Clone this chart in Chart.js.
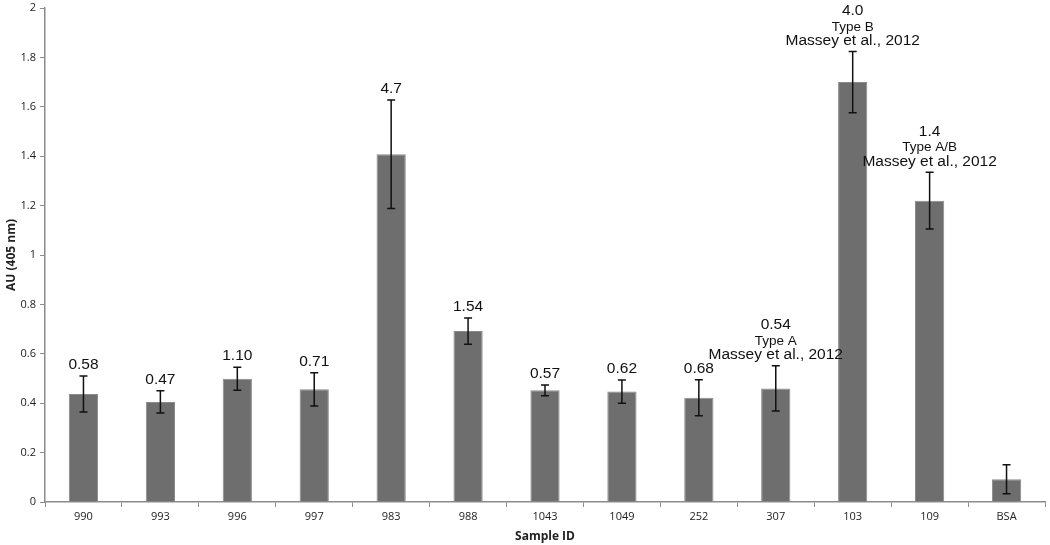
<!DOCTYPE html>
<html>
<head>
<meta charset="utf-8">
<script src="https://cdn.jsdelivr.net/npm/chart.js@4/dist/chart.umd.min.js"></script>
<style>
  body { margin: 0; background: #fff; }
  #wrap { width: 1050px; height: 545px; }
</style>
</head>
<body>
<div id="wrap"><canvas id="barChart"></canvas></div>
<script>
// sample ids along the x axis
const categories = ['990', '993', '996', '997', '983', '988', '1043', '1049', '252', '307', '103', '109', 'BSA'];
// mean absorbance (AU, 405 nm) and error (+/-)
const means = [0.437, 0.405, 0.499, 0.456, 1.408, 0.692, 0.452, 0.447, 0.422, 0.460, 1.700, 1.220, 0.092];
const errors = [0.073, 0.045, 0.047, 0.067, 0.220, 0.053, 0.022, 0.047, 0.073, 0.092, 0.124, 0.115, 0.059];
// text written above each bar
const ratioLabels = ['0.58', '0.47', '1.10', '0.71', '4.7', '1.54', '0.57', '0.62', '0.68', '0.54', '4.0', '1.4', ''];
const typeLabels = ['', '', '', '', '', '', '', '', '', 'Type A', 'Type B', 'Type A/B', ''];
const refLabels = ['', '', '', '', '', '', '', '', '', 'Massey et al., 2012', 'Massey et al., 2012', 'Massey et al., 2012', ''];
const yTicks = [0, 0.2, 0.4, 0.6, 0.8, 1, 1.2, 1.4, 1.6, 1.8, 2];

const AXIS_FONT = "'Open Sans', 'DejaVu Sans', sans-serif";
const NOTE_FONT = "'Liberation Sans', Arial, sans-serif";

// error bars + the notes over the bars
const errorBarPlugin = {
  id: 'errorBars',
  afterDatasetsDraw(chart) {
    const ctx = chart.ctx;
    const y = chart.scales.y;
    const meta = chart.getDatasetMeta(0);
    ctx.save();
    meta.data.forEach((bar, i) => {
      const x = bar.x;
      const top = y.getPixelForValue(means[i] + errors[i]);
      const bot = y.getPixelForValue(means[i] - errors[i]);
      ctx.strokeStyle = '#111';
      ctx.lineWidth = 1.5;
      ctx.beginPath();
      ctx.moveTo(x, top); ctx.lineTo(x, bot);
      ctx.moveTo(x - 4, top); ctx.lineTo(x + 4, top);
      ctx.moveTo(x - 4, bot); ctx.lineTo(x + 4, bot);
      ctx.stroke();

      ctx.fillStyle = '#111';
      ctx.textAlign = 'center';
      ctx.textBaseline = 'middle';
      let ty = top - 11;
      if (refLabels[i]) {
        ctx.font = '15.5px ' + NOTE_FONT;
        ctx.fillText(refLabels[i], x, ty);
        ty -= 13.5;
      }
      if (typeLabels[i]) {
        ctx.font = '13.5px ' + NOTE_FONT;
        ctx.fillText(typeLabels[i], x, ty);
        ty -= 16;
      }
      if (ratioLabels[i]) {
        ctx.font = '15.5px ' + NOTE_FONT;
        ctx.fillText(ratioLabels[i], x, ty);
      }
    });
    ctx.restore();
  }
};

const CHART = document.getElementById('barChart').getContext('2d');

let myBarChart = new Chart(CHART, {
  type: 'bar',
  data: {
    labels: categories,
    datasets: [{
      label: 'AU (405 nm)',
      data: means,
      backgroundColor: '#6e6e6e',
      borderColor: '#8a8a8a',
      borderWidth: 1,
      barPercentage: 0.38,
      categoryPercentage: 1
    }]
  },
  options: {
    responsive: true,
    maintainAspectRatio: false,
    animation: false,
    layout: { padding: { left: 0, right: 5, top: 0, bottom: 0 } },
    plugins: {
      legend: { display: false },
      tooltip: { enabled: false }
    },
    scales: {
      x: {
        grid: { display: true, drawOnChartArea: false, offset: true, tickLength: 5, color: '#8c8c8c' },
        border: { color: '#8c8c8c', width: 1.5 },
        ticks: { color: '#222', padding: 3, font: { family: AXIS_FONT, size: 11 } },
        title: {
          display: true, text: 'Sample ID', color: '#222',
          font: { family: AXIS_FONT, size: 12, weight: 'bold' },
          padding: { top: 0, bottom: 1 }
        },
        afterFit(scale) { scale.height = 43; }
      },
      y: {
        min: 0,
        max: 2,
        afterBuildTicks(scale) { scale.ticks = yTicks.map(v => ({ value: v })); },
        grid: { display: true, drawOnChartArea: false, tickLength: 5, color: '#8c8c8c' },
        border: { color: '#8c8c8c', width: 1.5 },
        ticks: {
          color: '#222', padding: 4,
          font: { family: AXIS_FONT, size: 11 },
          callback: v => String(+v.toFixed(1))
        },
        title: {
          display: true, text: 'AU (405 nm)', color: '#222',
          font: { family: AXIS_FONT, size: 12, weight: 'bold' },
          padding: { top: 4, bottom: 0 }
        },
        afterFit(scale) { scale.width = 45; scale.paddingTop = 8; }
      }
    }
  },
  plugins: [errorBarPlugin]
});
</script>
</body>
</html>
